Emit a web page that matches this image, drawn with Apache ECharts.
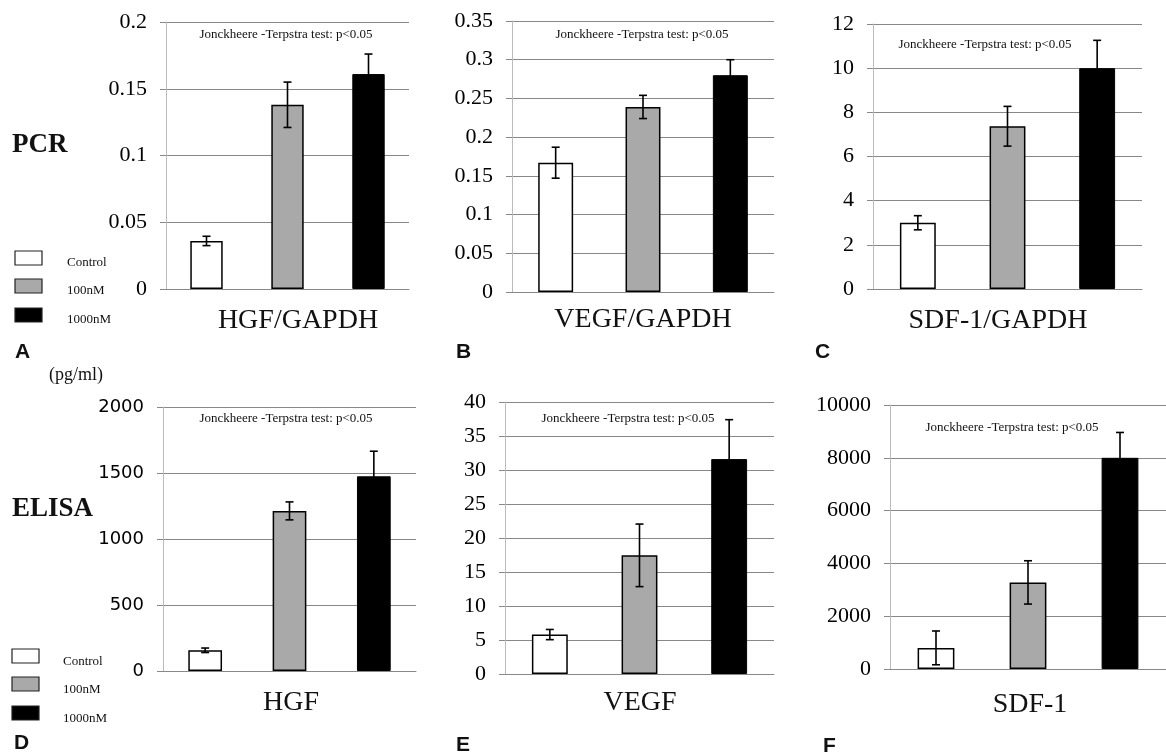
<!DOCTYPE html>
<html>
<head>
<meta charset="utf-8">
<script src="https://cdn.jsdelivr.net/npm/echarts@6/dist/echarts.min.js"></script>
<style>
  html, body { margin: 0; padding: 0; background: #fff; }
  #chart { width: 1166px; height: 753px; }
</style>
</head>
<body>
<div id="chart"></div>
<script>
// 组别
const groups = ['Control', '100nM', '1000nM'];

// PCR (mRNA / GAPDH)
const hgfPcr = [0.036, 0.138, 0.161];
const hgfPcrErr = [0.0035, 0.017, 0.015];
const vegfPcr = [0.167, 0.239, 0.280];
const vegfPcrErr = [0.020, 0.015, 0.020];
const sdfPcr = [3.0, 7.37, 10.0];
const sdfPcrErr = [0.32, 0.9, 1.26];

// ELISA (pg/ml)
const hgfElisa = [157, 1213, 1475];
const hgfElisaErr = [17, 68, 190];
const vegfElisa = [5.8, 17.45, 31.6];
const vegfElisaErr = [0.75, 4.6, 5.8];
const sdfElisa = [800, 3280, 8000];
const sdfElisaErr = [640, 820, 960];

// y 轴范围
const axisMax = [0.2, 0.35, 12, 2000, 40, 10000];
const axisStep = [0.05, 0.05, 2, 500, 5, 2000];

const panelNames = ['HGF/GAPDH', 'VEGF/GAPDH', 'SDF-1/GAPDH', 'HGF', 'VEGF', 'SDF-1'];
const panelLetters = ['A', 'B', 'C', 'D', 'E', 'F'];
const testNote = 'Jonckheere -Terpstra test: p<0.05';

const panelValues = [hgfPcr, vegfPcr, sdfPcr, hgfElisa, vegfElisa, sdfElisa];
const panelErrors = [hgfPcrErr, vegfPcrErr, sdfPcrErr, hgfElisaErr, vegfElisaErr, sdfElisaErr];

// 布局 (像素)
const grids = [
  { left: 166, top: 22, width: 243, height: 267 },
  { left: 512, top: 21, width: 262, height: 271 },
  { left: 873, top: 24, width: 269, height: 265 },
  { left: 163, top: 407, width: 253, height: 264 },
  { left: 505, top: 402, width: 269, height: 272 },
  { left: 890, top: 405, width: 286, height: 264 },
];
const notePos = [[286, 35], [642, 35], [985, 45], [286, 419], [628, 419], [1012, 428]];
const namePos = [[298, 321], [643, 320], [998, 321], [291, 703], [640, 703], [1030, 705]];
const letterPos = [[15, 352], [456, 352], [815, 352], [14, 743], [456, 745], [823, 746]];

const serif = '"Liberation Serif", "DejaVu Serif", serif';
const sans = '"Liberation Sans", Arial, sans-serif';

const barStyles = [
  { color: '#ffffff', borderColor: '#000', borderWidth: 1.5 },
  { color: '#a9a9a9', borderColor: '#000', borderWidth: 1.5 },
  { color: '#000000', borderColor: '#000', borderWidth: 1 },
];

// 刻度标签：去掉千位分隔符，保留小数
const tickText = (v) => String(Math.round(v * 1000) / 1000);

const chart = echarts.init(document.getElementById('chart'));

const xAxis = [];
const yAxis = [];
const series = [];

grids.forEach((g, i) => {
  xAxis.push({
    type: 'category',
    gridIndex: i,
    data: groups,
    axisLine: { show: true, lineStyle: { color: '#888', width: 1 } },
    axisTick: { show: false },
    axisLabel: { show: false },
    splitLine: { show: false },
  });
  yAxis.push({
    type: 'value',
    gridIndex: i,
    min: 0,
    max: axisMax[i],
    interval: axisStep[i],
    axisLine: { show: true, lineStyle: { color: '#bbb', width: 1 } },
    axisTick: { show: true, length: 6, lineStyle: { color: '#888' } },
    axisLabel: {
      margin: 19,
      color: '#000',
      formatter: tickText,
      fontFamily: i === 3 ? '"DejaVu Sans", sans-serif' : serif,
      fontSize: i === 3 ? 18 : 22,
    },
    splitLine: { show: true, lineStyle: { color: '#888', width: 1 } },
  });

  series.push({
    type: 'bar',
    xAxisIndex: i,
    yAxisIndex: i,
    barWidth: '40%',
    data: panelValues[i].map((v, k) => ({ value: v, itemStyle: barStyles[k] })),
  });

  // 误差线
  series.push({
    type: 'custom',
    xAxisIndex: i,
    yAxisIndex: i,
    z: 5,
    encode: { x: 0, y: 1 },
    data: panelValues[i].map((v, k) => [k, v, panelErrors[i][k]]),
    renderItem: (params, api) => {
      const k = api.value(0);
      const hi = api.coord([k, api.value(1) + api.value(2)]);
      const lo = api.coord([k, api.value(1) - api.value(2)]);
      const half = 4;
      const style = { stroke: '#000', lineWidth: 1.6 };
      return {
        type: 'group',
        children: [
          { type: 'line', shape: { x1: hi[0], y1: hi[1], x2: lo[0], y2: lo[1] }, style },
          { type: 'line', shape: { x1: hi[0] - half, y1: hi[1], x2: hi[0] + half, y2: hi[1] }, style },
          { type: 'line', shape: { x1: lo[0] - half, y1: lo[1], x2: lo[0] + half, y2: lo[1] }, style },
        ],
      };
    },
  });
});

// 文字与图例
const graphic = [];
const addText = (text, x, y, font, align) => {
  graphic.push({
    type: 'text',
    x: x,
    y: y,
    style: { text: text, font: font, fill: '#111', textAlign: align || 'center', textVerticalAlign: 'middle' },
  });
};

grids.forEach((g, i) => {
  addText(testNote, notePos[i][0], notePos[i][1], '13px ' + serif);
  addText(panelNames[i], namePos[i][0], namePos[i][1], '28px ' + serif);
  addText(panelLetters[i], letterPos[i][0], letterPos[i][1], 'bold 21px ' + sans, 'left');
});

addText('PCR', 12, 145, 'bold 27px ' + serif, 'left');
addText('ELISA', 12, 509, 'bold 27px ' + serif, 'left');
addText('(pg/ml)', 49, 375, '18px ' + serif, 'left');

const legendFills = ['#ffffff', '#a9a9a9', '#000000'];
const legendRows = [
  { boxX: 15, textX: 67, boxY: [251, 279, 308], textY: [263, 291, 320] },
  { boxX: 12, textX: 63, boxY: [649, 677, 706], textY: [662, 690, 719] },
];
legendRows.forEach(row => {
  groups.forEach((name, k) => {
    graphic.push({
      type: 'rect',
      shape: { x: row.boxX, y: row.boxY[k], width: 27, height: 14 },
      style: { fill: legendFills[k], stroke: '#222', lineWidth: 1.2 },
    });
    addText(name, row.textX, row.textY[k], '13px ' + serif, 'left');
  });
});

chart.setOption({
  animation: false,
  backgroundColor: '#fff',
  grid: grids,
  xAxis: xAxis,
  yAxis: yAxis,
  series: series,
  graphic: graphic,
});

window.addEventListener('resize', () => chart.resize());
</script>
</body>
</html>
